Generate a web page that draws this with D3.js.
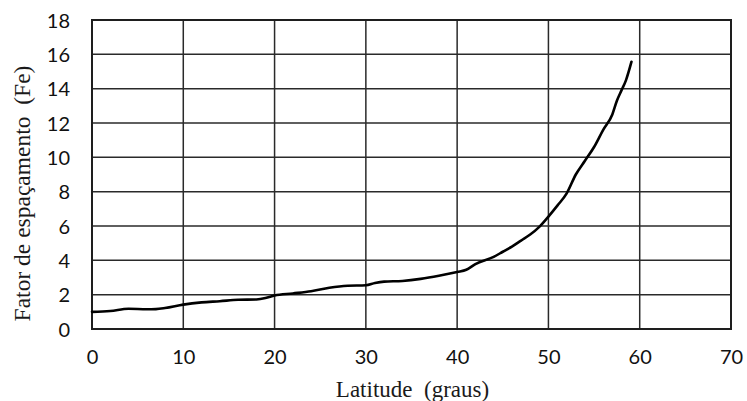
<!DOCTYPE html>
<html><head><meta charset="utf-8">
<script src="https://cdn.jsdelivr.net/npm/d3@7"></script>
<style>
html,body{margin:0;padding:0;background:#fff;}
svg{display:block;}
</style></head>
<body>
<svg id="c" width="747" height="401"></svg>
<script>
const latitude = [0,2,4,6,7,8,10,12,14,16,18,19,20,22,24,26,28,30,31,32,34,36,38,40,41,42,44,45,46,47,48,49,50,51,52,53,54,55,56,57,57.5,58,58.5,59.1];
const fe       = [1.0,1.05,1.18,1.15,1.16,1.22,1.42,1.55,1.62,1.7,1.72,1.8,1.95,2.07,2.2,2.4,2.52,2.55,2.68,2.76,2.8,2.92,3.1,3.32,3.45,3.78,4.2,4.5,4.8,5.15,5.5,5.95,6.55,7.2,7.9,9.0,9.8,10.6,11.6,12.5,13.3,13.9,14.5,15.57];
const xTicks = [0,10,20,30,40,50,60,70];
const yTicks = [0,2,4,6,8,10,12,14,16,18];
const xTitle = "Latitude  (graus)";
const yTitle = "Fator de espaçamento  (Fe)";

const svg = d3.select("#c");
const x = d3.scaleLinear().domain([0,70]).range([92,731]);
const y = d3.scaleLinear().domain([0,18]).range([329,20]);

// grid
svg.append("g").selectAll("line").data(yTicks).join("line")
  .attr("x1", x(0)).attr("x2", x(70))
  .attr("y1", d=>y(d)).attr("y2", d=>y(d))
  .attr("stroke","#2a2a2a").attr("stroke-width",1.5);
svg.append("g").selectAll("line").data(xTicks).join("line")
  .attr("y1", y(0)).attr("y2", y(18))
  .attr("x1", d=>x(d)).attr("x2", d=>x(d))
  .attr("stroke","#2a2a2a").attr("stroke-width",1.5);
// frame
svg.append("rect").attr("x",x(0)).attr("y",y(18))
  .attr("width",x(70)-x(0)).attr("height",y(0)-y(18))
  .attr("fill","none").attr("stroke","#1e1e1e").attr("stroke-width",2);

// axes labels via d3 axes
const xAxis = d3.axisBottom(x).tickValues(xTicks).tickSize(0).tickPadding(0);
const gx = svg.append("g").attr("transform",`translate(0,${y(0)})`).call(xAxis);
gx.select(".domain").remove();
gx.selectAll("text").attr("dy",null).attr("y",35)
  .style("font-family","Lato, 'Open Sans', sans-serif").style("font-size","20px").attr("fill","#111");

const yAxis = d3.axisLeft(y).tickValues(yTicks).tickSize(0).tickPadding(0);
const gy = svg.append("g").attr("transform",`translate(${x(0)},0)`).call(yAxis);
gy.select(".domain").remove();
gy.selectAll("text").attr("x",-22).attr("dy","0.36em")
  .style("font-family","Lato, 'Open Sans', sans-serif").style("font-size","20px").attr("fill","#111");

// curve
const line = d3.line().x((d,i)=>x(latitude[i])).y(d=>y(d)).curve(d3.curveMonotoneX);
svg.append("path").datum(fe).attr("d",line)
  .attr("fill","none").attr("stroke","#000").attr("stroke-width",2.6)
  .attr("stroke-linejoin","round").attr("stroke-linecap","round");

// titles
svg.append("text").attr("x",412.5).attr("y",397).attr("text-anchor","middle")
  .style("font-family","'Liberation Serif','Times New Roman',serif").style("font-size","23px")
  .style("white-space","pre").attr("fill","#1a1a1a").text(xTitle);
svg.append("text").attr("transform","translate(30,193.5) rotate(-90)").attr("text-anchor","middle")
  .style("font-family","'Liberation Serif','Times New Roman',serif").style("font-size","23.5px")
  .style("white-space","pre").attr("fill","#1a1a1a").text(yTitle);
</script>
</body></html>
